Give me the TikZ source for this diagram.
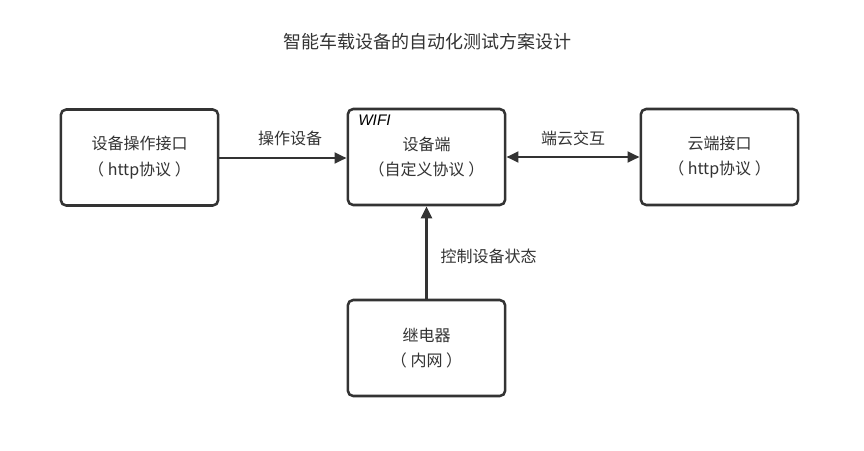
\documentclass[tikz,border=0pt]{standalone}
\usepackage{fontspec}
\setmainfont{Noto Sans CJK SC}
\newfontfamily\wififont{Liberation Sans}
\usepackage{xcolor}
\usetikzlibrary{arrows.meta,positioning}
\definecolor{linegray}{HTML}{333333}

\begin{document}
\begin{tikzpicture}[
    x=0.75pt, y=-0.75pt,
    font=\fontsize{12}{19}\selectfont,
    text=linegray,
    block/.style={draw=linegray, line width=1.9pt, rounded corners=4pt,
      minimum width=118pt, minimum height=72pt, align=center, fill=white},
    link/.style={draw=linegray, line width=2.1pt, -{Triangle[length=9pt,width=8pt]}},
    biglink/.style={link, {Triangle[length=9pt,width=8pt]}-{Triangle[length=9pt,width=8pt]}},
  ]
    \useasboundingbox (0,0) rectangle (864,450);
    \node (title) at (427,42) {\fontsize{13.5}{15}\selectfont 智能车载设备的自动化测试方案设计};

    \node[block] (opapi) at (139.5,157.5) {设备操作接口\\（ http协议 ）};
    \node[block] (device) at (426.5,157) {设备端\\（自定义协议 ）};
    \node[block] (cloud) at (719.5,157) {云端接口\\（ http协议 ）};
    \node[block] (relay) at (426.5,348) {继电器\\（ 内网 ）};

    \node[anchor=north west, font=\wififont\itshape\fontsize{11.5}{12}\selectfont, text=black,
      inner sep=0pt] (wifi) at (358,115) {WIFI};

    \draw[link] (opapi.east |- 0,158) -- (device.west |- 0,158);
    \draw[biglink] (device.east) -- (cloud.west);
    \draw[link] (relay.north) -- (device.south);

    \node (oplabel) at (290,138) {操作设备};
    \node (cloudlabel) at (573,138) {端云交互};
    \node[anchor=west] (ctrllabel) at (436,256) {控制设备状态};
  \end{tikzpicture}
\end{document}
